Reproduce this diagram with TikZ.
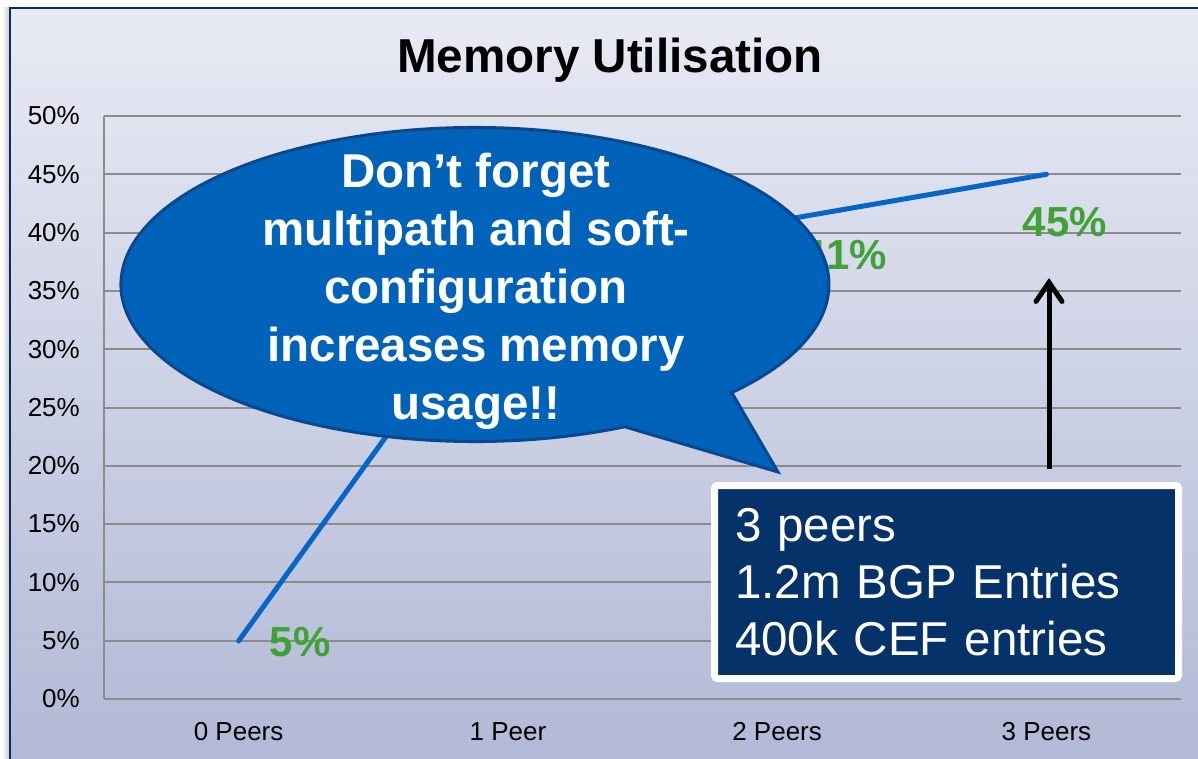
\documentclass[tikz,border=0pt]{standalone}
\usepackage{fontspec}
\setmainfont{Liberation Sans}
\usetikzlibrary{arrows.meta,shadows}

\definecolor{bgtop}{RGB}{232,234,244}
\definecolor{bgbot}{RGB}{178,185,214}
\definecolor{framecol}{RGB}{10,45,105}
\definecolor{gridgray}{RGB}{140,140,140}
\definecolor{seriescol}{RGB}{5,102,200}
\definecolor{valgreen}{RGB}{64,162,54}
\definecolor{bubblefill}{RGB}{0,98,184}
\definecolor{bubbleedge}{RGB}{9,72,142}
\definecolor{navybox}{RGB}{6,50,106}

\tikzset{
  gridline/.style={draw=gridgray, line width=2pt},
  ylab/.style={anchor=east, inner sep=0pt, font=\fontsize{26}{30}\selectfont},
  catlab/.style={inner sep=0pt, font=\fontsize{26}{30}\selectfont},
  seriesline/.style={draw=seriescol, line width=5pt, line cap=round, line join=round},
  vallab/.style={inner sep=0pt, text=valgreen, font=\bfseries\fontsize{42}{46}\selectfont},
  bubble/.style={fill=bubblefill, draw=bubbleedge, line width=3pt},
  bubbletext/.style={align=center, text=white, inner sep=0pt,
    font=\bfseries\fontsize{47.5}{58}\selectfont},
  uparrow/.style={draw=black, line width=5pt,
    -{Straight Barb[length=19pt,width=26pt,line cap=round]}},
  infobox/.style={fill=navybox, draw=white, line width=7pt, rounded corners=3pt,
    minimum width=464pt, minimum height=193pt, text width=423pt,
    inner xsep=20.5pt, inner ysep=0pt, align=left, text=white,
    font=\fontsize{47.5}{57}\selectfont,
    drop shadow={opacity=0.25, shadow xshift=2pt, shadow yshift=-3pt}},
  titlelab/.style={inner sep=0pt, font=\bfseries\fontsize{47.6}{52}\selectfont}
}

\begin{document}
\begin{tikzpicture}[x=1pt,y=-1pt]
\useasboundingbox (0,0) rectangle (1198,759);
\fill[white] (0,0) rectangle (1198,759);

% chart background and frame
\shade[left color=white, right color=black!22] (2,8) rectangle (10,759);
\shade[top color=bgtop, bottom color=bgbot] (10,8) rectangle (1198,759);
\draw[framecol, line width=2.5pt] (10,759) -- (10,8) -- (1198,8);

% title
\node[titlelab, anchor=base] (title) at (610,73) {Memory Utilisation};

% horizontal grid and value axis labels
\foreach \i in {0,...,10} {
  \pgfmathsetmacro\yy{699-\i*58.3}
  \pgfmathtruncatemacro\pct{\i*5}
  \draw[gridline] (104,\yy) -- (1181,\yy);
  \node[ylab] (yl\i) at (80,\yy) {\pct\%};
}
\draw[gridline] (104,116) -- (104,699);

% category labels
\node[catlab] (c0) at (238.6,732) {0 Peers};
\node[catlab] (c1) at (507.9,732) {1 Peer};
\node[catlab] (c2) at (777.1,732) {2 Peers};
\node[catlab] (c3) at (1046.4,732) {3 Peers};

% data series
\coordinate (p0) at (238.6,641);
\coordinate (p1) at (507.9,267.6);
\coordinate (p2) at (777.1,221);
\coordinate (p3) at (1046.4,174.3);
\draw[seriesline] (p0) -- (p1) -- (p2) -- (p3);

\node[vallab] (v0) at (300,642) {5\%};
\node[vallab] (v2) at (845,255) {41\%};
\node[vallab] (v3) at (1065,222) {45\%};

% speech bubble
\coordinate (cc) at (475,284.5);
\path (cc) ++(65:354 and 157) coordinate (cb);
\coordinate (tip) at (778,472);
\draw[bubble] (cb) arc[start angle=65, end angle=403.5, x radius=354, y radius=157]
  -- (tip) -- cycle;
\node[bubbletext] (note) at (476,291)
  {Don’t forget\\multipath and soft-\\configuration\\increases memory\\usage!!};

% growth arrow
\coordinate (ab) at (1049,469);
\coordinate (at) at (1049,278);
\draw[uparrow] (ab) -- (at);

% info box
\node[infobox] (info) at (946.5,582) {3 peers\\1.2m BGP Entries\\400k CEF entries};
\end{tikzpicture}
\end{document}
